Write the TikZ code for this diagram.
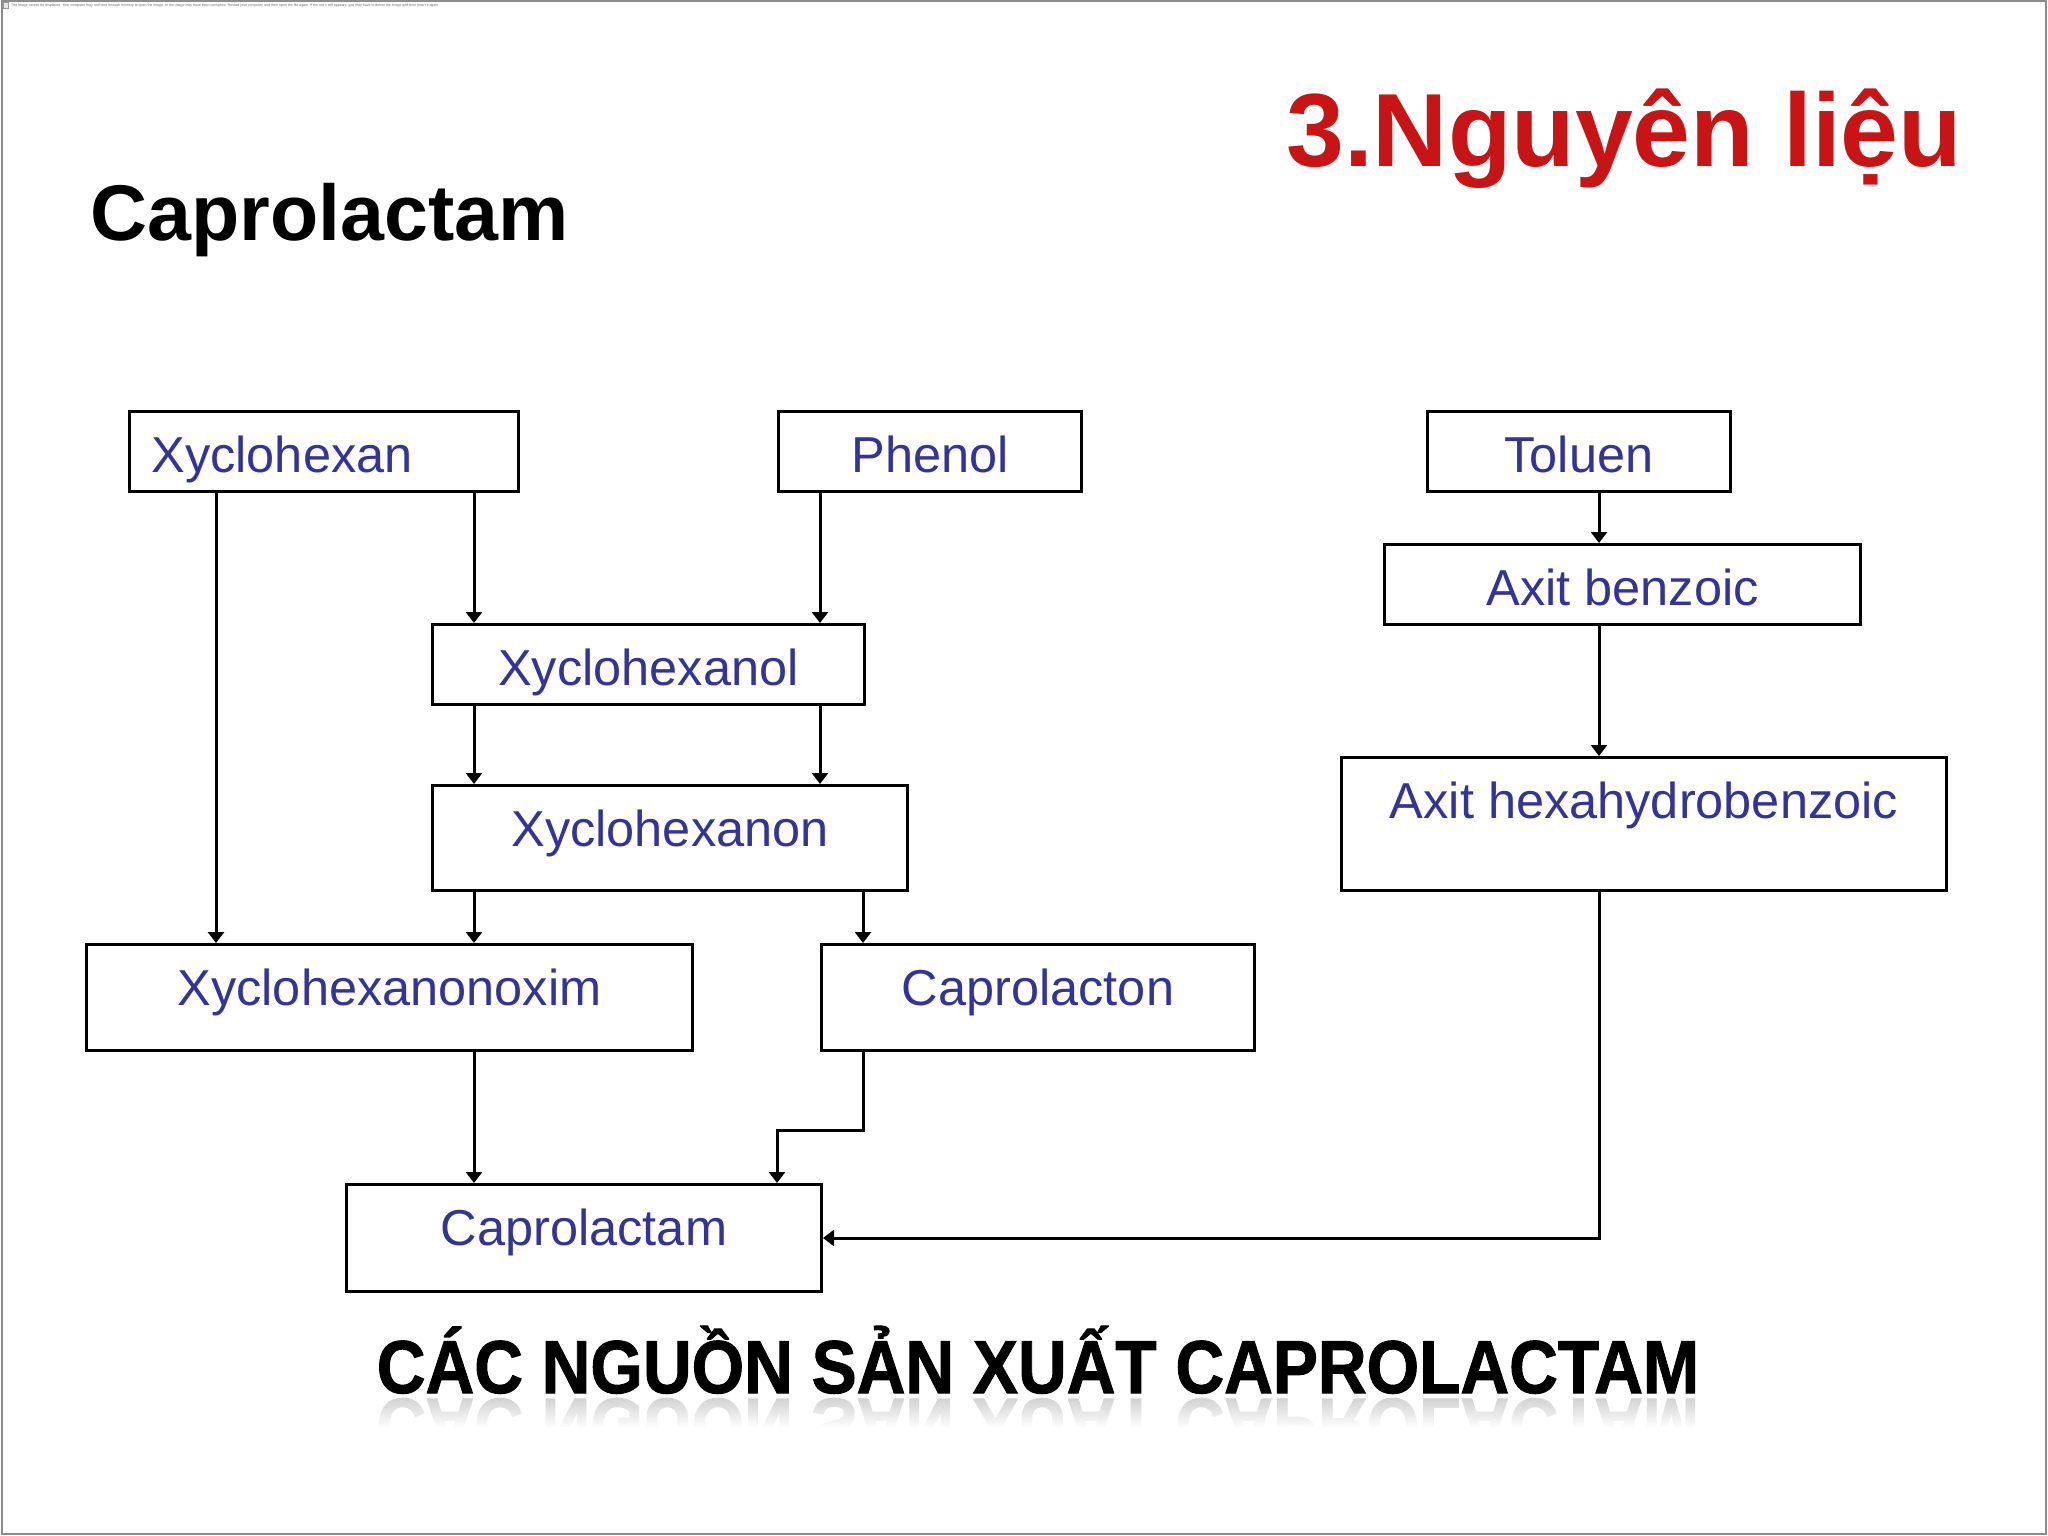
\documentclass[tikz,border=0pt]{standalone}
\usepackage{fontspec}
\usepackage{graphicx}
\setmainfont{Liberation Sans}
\newfontfamily\capfont[FakeBold=1.4]{Liberation Sans}
\usetikzlibrary{arrows.meta,fadings}
\definecolor{boxblue}{RGB}{51,51,153}
\definecolor{titlered}{RGB}{200,20,20}
\newcommand{\captext}{CÁC NGUỒN SẢN XUẤT CAPROLACTAM}
\begin{document}
\begin{tikzpicture}[x=1pt,y=-1pt,
  box/.style={draw, line width=3pt, inner sep=0pt, anchor=north west, text=boxblue,
    font=\fontsize{50.5}{60}\selectfont, text height=61pt},
  arr/.style={line width=3pt, -{Triangle[length=11pt,width=16pt]}},
  bigtitle/.style={anchor=base west, inner sep=0pt, font=\bfseries\fontsize{104}{120}\selectfont},
  capstyle/.style={inner sep=0pt, font=\capfont\bfseries\fontsize{75}{90}\selectfont}]
\useasboundingbox (0,0) rectangle (2048,1536);
\fill[white] (0,0) rectangle (2048,1536);
\draw[black!45, line width=2pt] (2,1) rectangle (2046,1534);

% broken image placeholder
\draw[black!40, fill=black!10, line width=0.6pt] (3,2) rectangle (8,8);
\node[anchor=west, inner sep=0pt, text=black!60] (msg) at (11,5.5) {\resizebox{428pt}{!}{The image cannot be displayed. Your computer may not have enough memory to open the image, or the image may have been corrupted. Restart your computer, and then open the file again. If the red x still appears, you may have to delete the image and then insert it again.}};

% titles
\node[bigtitle, text=titlered] (title) at (1286,167) {3.Nguyên liệu};
\node[anchor=base west, inner sep=0pt, font=\bfseries\fontsize{79}{90}\selectfont] (head) at (90,240) {Caprolactam};

% boxes
\node[box, text depth=19pt, inner xsep=22pt, text width=345pt, align=left] (xan) at (128,410) {Xyclohexan};
\node[box, minimum width=303pt, text depth=19pt] (phe) at (777,410) {Phenol};
\node[box, minimum width=303pt, text depth=19pt] (tol) at (1426,410) {Toluen};
\node[box, minimum width=476pt, text depth=19pt] (ben) at (1383,543) {Axit benzoic};
\node[box, minimum width=432pt, text depth=19pt] (nol) at (431,623) {Xyclohexanol};
\node[box, minimum width=475pt, text depth=44pt] (non) at (431,784) {Xyclohexanon};
\node[box, minimum width=605pt, text depth=72pt] (hex) at (1340,756) {Axit hexahydrobenzoic};
\node[box, minimum width=606pt, text depth=45pt] (xim) at (85,943) {Xyclohexanonoxim};
\node[box, minimum width=433pt, text depth=45pt] (ton) at (820,943) {Caprolacton};
\node[box, minimum width=475pt, text depth=46pt] (tam) at (345,1183) {Caprolactam};

% columns
\coordinate (cA) at (216,0);
\coordinate (cB) at (474,0);
\coordinate (cC) at (820,0);
\coordinate (cD) at (863,0);
\coordinate (cE) at (1599,0);
\coordinate (cF) at (777,0);
\coordinate (kk) at (0,1130);

% connectors
\draw[arr] (xan.south -| cA) -- (xim.north -| cA);
\draw[arr] (xan.south -| cB) -- (nol.north -| cB);
\draw[arr] (phe.south -| cC) -- (nol.north -| cC);
\draw[arr] (nol.south -| cB) -- (non.north -| cB);
\draw[arr] (nol.south -| cC) -- (non.north -| cC);
\draw[arr] (non.south -| cB) -- (xim.north -| cB);
\draw[arr] (non.south -| cD) -- (ton.north -| cD);
\draw[arr] (xim.south -| cB) -- (tam.north -| cB);
\draw[arr] (ton.south -| cD) -- (kk -| cD) -- (kk -| cF) -- (tam.north -| cF);
\draw[arr] (tol.south -| cE) -- (ben.north -| cE);
\draw[arr] (ben.south -| cE) -- (hex.north -| cE);
\draw[arr] (hex.south -| cE) |- (tam.east);

% caption with reflection
\node[capstyle, anchor=base] (cap) at (1038,1393) {\scalebox{0.9}[1]{\captext}};
\node[capstyle, anchor=north, text=black!18] (capr) at (1038,1398) {\scalebox{0.9}[-1]{\captext}};
\fill[white, path fading=north] (320,1397) rectangle (1760,1428);
\fill[white] (320,1427) rectangle (1760,1480);
\end{tikzpicture}
\end{document}
